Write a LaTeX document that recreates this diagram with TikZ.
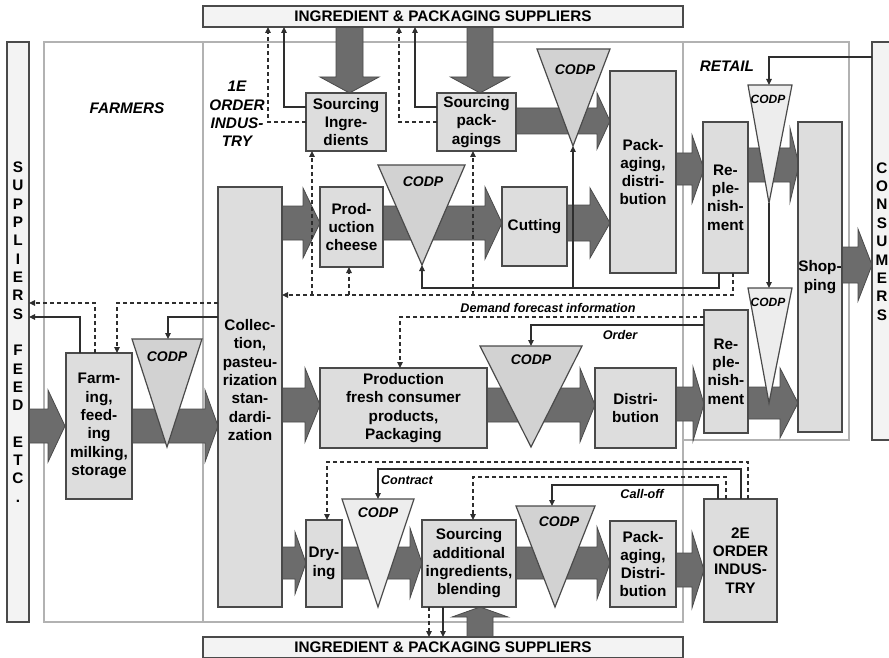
\documentclass[tikz,border=0pt]{standalone}
\usepackage{fontspec}
\setmainfont{Liberation Sans}
\usetikzlibrary{arrows.meta}
\definecolor{boxfill}{HTML}{DDDDDD}
\definecolor{trifill}{HTML}{D2D2D2}
\definecolor{lighttri}{HTML}{EDEDED}
\definecolor{arrowfill}{HTML}{6C6C6C}
\definecolor{linec}{HTML}{2E2E2E}
\definecolor{framec}{HTML}{B2B2B2}
\definecolor{supfill}{HTML}{F3F3F3}
\definecolor{edgec}{HTML}{4A4A4A}
\pgfdeclarelayer{back}\pgfdeclarelayer{mid}\pgfsetlayers{back,mid,main}
\newcommand\blkh[6]{\draw[barrow] (#1,{#4-#5}) -- (#3,{#4-#5}) -- (#3,{#4-#6}) -- (#2,#4) -- (#3,{#4+#6}) -- (#3,{#4+#5}) -- (#1,{#4+#5}) -- cycle;}
\newcommand\blkv[6]{\draw[barrow] ({#1-#5},#2) -- ({#1-#5},#3) -- ({#1-#6},#3) -- (#1,#4) -- ({#1+#6},#3) -- ({#1+#5},#3) -- ({#1+#5},#2) -- cycle;}
\tikzset{
  box/.style={draw=edgec, fill=boxfill, line width=1.3pt, inner xsep=0pt, inner ysep=0pt, outer sep=0pt, align=center, font=\bfseries\fontsize{15.3}{18.3}\selectfont},
  txt/.style={inner sep=0pt, align=center, font=\bfseries\fontsize{15.3}{18.3}\selectfont},
  itl/.style={inner sep=0pt, align=center, font=\bfseries\itshape\fontsize{15.3}{18.3}\selectfont},
  small/.style={inner sep=0pt, font=\bfseries\itshape\fontsize{12.6}{14}\selectfont},
  codp/.style={inner sep=0pt, font=\bfseries\itshape\fontsize{14}{16}\selectfont},
  codps/.style={inner sep=0pt, font=\bfseries\itshape\fontsize{12}{14}\selectfont},
  tri/.style={draw=edgec, fill=trifill, line width=1.2pt, line join=miter},
  ltri/.style={draw=edgec, fill=lighttri, line width=1.2pt, line join=miter},
  barrow/.style={draw=edgec, fill=arrowfill, line width=0.8pt},
  frame/.style={draw=framec, line width=1.6pt},
  sl/.style={draw=linec, line width=1.1pt},
  dl/.style={draw=linec, line width=1.1pt, dash pattern=on 4pt off 3pt},
  arr/.style={-{Triangle[length=6pt,width=5.5pt]}}
}
\begin{document}
\begin{tikzpicture}[x=1pt,y=-1pt]
\useasboundingbox (0,0) rectangle (889,658);
\begin{pgfonlayer}{back}
\fill[white] (0,0) rectangle (889,658);
\draw[frame] (44,42) rectangle (683,622);
\draw[frame] (203,42) -- (203,622);
\draw[frame] (683,42) rectangle (849,440);
\end{pgfonlayer}

% supplier / consumer bars
\node[box, fill=supfill, minimum width=480pt, minimum height=21pt] (suptop) at (443,16.5) {INGREDIENT \& PACKAGING SUPPLIERS};
\node[box, fill=supfill, minimum width=480pt, minimum height=21pt] (supbot) at (443,647.5) {INGREDIENT \& PACKAGING SUPPLIERS};
\node[box, fill=supfill, minimum width=22pt, minimum height=580pt, font=\bfseries\fontsize{15.3}{18.33}\selectfont] (supleft) at (18,332) {S\\U\\P\\P\\L\\I\\E\\R\\S\\~\\F\\E\\E\\D\\~\\E\\T\\C\\.};
\node[box, fill=supfill, minimum width=20pt, minimum height=398pt] (cons) at (882,241) {};
\node[txt, font=\bfseries\fontsize{15.3}{18.4}\selectfont] (consl) at (882,241.5) {C\\O\\N\\S\\U\\M\\E\\R\\S};

% region labels
\node[itl] (farmers) at (127,108) {FARMERS};
\node[itl] (oneE) at (237,114) {1E\\ORDER\\INDUS-\\TRY};
\node[itl] (retail) at (727,66) {RETAIL};

% process boxes
\node[box, minimum width=80pt, minimum height=58pt] (sing) at (346,122) {Sourcing\\Ingre-\\dients};
\node[box, minimum width=79pt, minimum height=58pt] (spack) at (476.5,122) {Sourcing\\pack-\\agings};
\node[box, minimum width=64pt, minimum height=420pt] (coll) at (250,397) {};
\node[txt] (colltxt) at (250,380) {Collec-\\tion,\\pasteu-\\rization\\stan-\\dardi-\\zation};
\node[box, minimum width=66pt, minimum height=146pt] (farm) at (99,426) {Farm-\\ing,\\feed-\\ing\\milking,\\storage};
\node[box, minimum width=63pt, minimum height=80pt] (prodch) at (351.5,227) {Prod-\\uction\\cheese};
\node[box, minimum width=65pt, minimum height=79pt] (cut) at (534.5,226.5) {Cutting};
\node[box, minimum width=66pt, minimum height=202pt] (packd) at (643,172) {Pack-\\aging,\\distri-\\bution};
\node[box, minimum width=45pt, minimum height=151pt] (rep1) at (725.5,197.5) {Re-\\ple-\\nish-\\ment};
\node[box, minimum width=44pt, minimum height=310pt] (shop) at (820,277) {Shop-\\ping};
\node[box, minimum width=167pt, minimum height=80pt] (fresh) at (403.5,408) {Production\\fresh consumer\\products,\\Packaging};
\node[box, minimum width=81pt, minimum height=80pt] (dist) at (635.5,408) {Distri-\\bution};
\node[box, minimum width=44pt, minimum height=123pt] (rep2) at (726,371.5) {Re-\\ple-\\nish-\\ment};
\node[box, minimum width=36pt, minimum height=87pt] (dry) at (324,563.5) {Dry-\\ing};
\node[box, minimum width=94pt, minimum height=87pt] (sadd) at (469,563.5) {Sourcing\\additional\\ingredients,\\blending};
\node[box, minimum width=66pt, minimum height=86pt] (packd2) at (643,564) {Pack-\\aging,\\Distri-\\bution};
\node[box, minimum width=73pt, minimum height=123pt] (ord2) at (740.5,560.5) {2E\\ORDER\\INDUS-\\TRY};

% block arrows (goods flow)
\begin{pgfonlayer}{mid}
\blkh{29}{65}{48}{426}{17}{36}
\blkh{132}{218}{205}{426}{17}{36}
\blkh{282}{320}{303}{223}{17}{35}
\blkh{383}{502}{485}{223}{17}{36}
\blkh{567}{610}{590}{223}{18}{35}
\blkh{516}{610}{597}{121}{13}{28}
\blkh{676}{704}{692}{169}{16}{34}
\blkh{748}{799}{790}{165}{17}{37}
\blkh{842}{872}{858}{265}{18}{36}
\blkh{282}{320}{305}{405}{17}{37}
\blkh{487}{595}{580}{405}{17}{37}
\blkh{676}{704}{693}{404}{17}{37}
\blkh{748}{798}{780}{403}{16}{35}
\blkh{282}{306}{295}{563}{16}{31}
\blkh{342}{422}{410}{563}{16}{35}
\blkh{516}{610}{597}{563}{16}{36}
\blkh{676}{704}{692}{570}{17}{38}
\blkv{349.5}{27}{77}{93}{13.5}{29.5}
\blkv{480}{27}{77}{93}{13}{29.5}
\blkv{480}{637}{617}{607}{13}{28}
\end{pgfonlayer}

% CODP triangles
\draw[tri] (537,49) -- (610,49) -- (573,146) coordinate (t0tip) -- cycle;
\node[codp] (c0) at (575,70) {CODP};
\draw[tri] (378,165) -- (465,165) -- (422,265) coordinate (t1tip) -- cycle;
\node[codp] (c1) at (423,182) {CODP};
\draw[tri] (132,339) -- (202,339) -- (167,447) -- cycle;
\coordinate (t2top) at (168,339);
\node[codp] (c2) at (167,357) {CODP};
\draw[tri] (480,346) -- (582,346) -- (531,447) -- cycle;
\coordinate (t3top) at (531,346);
\node[codp] (c3) at (531,360) {CODP};
\draw[ltri] (342,499) -- (414,499) -- (378,607) -- cycle;
\coordinate (t4top) at (378,499);
\node[codp] (c4) at (378,513) {CODP};
\draw[tri] (516,506) -- (595,506) -- (555,607) -- cycle;
\coordinate (t5top) at (552,506);
\node[codp] (c5) at (559,522) {CODP};
\draw[ltri] (748,85) -- (792,85) -- (769,203) coordinate (t6tip) -- cycle;
\coordinate (t6top) at (769,85);
\node[codps] (c6) at (768,99) {CODP};
\draw[ltri] (748,288) -- (792,288) -- (769,403) -- cycle;
\coordinate (t7top) at (769,288);
\node[codps] (c7) at (768,302) {CODP};

% information flows, top
\draw[sl,arr] (sing.west |- 0,107) -| (suptop.south -| 284,0);
\draw[dl,arr] (sing.west |- 0,122) -| (suptop.south -| 268,0);
\draw[sl,arr] (spack.west |- 0,107) -| (suptop.south -| 415,0);
\draw[dl,arr] (spack.west |- 0,122) -| (suptop.south -| 399,0);

% from replenishment (cheese chain)
\draw[dl,arr] (rep1.south -| 733,0) |- (coll.east |- 0,295);
\draw[dl,arr] (312,295) -- (sing.south -| 312,0);
\draw[dl,arr] (349,295) -- (prodch.south -| 349,0);
\draw[dl,arr] (473,295) -- (spack.south -| 473,0);
\draw[sl,arr] (rep1.south -| 719,0) |- (422,288) -- (t1tip);
\draw[sl,arr] (573,288) -- (t0tip);

% fresh chain
\draw[dl,arr] (rep2.west |- 0,317) -| (fresh.north -| 400,0);
\node[small] (dfi) at (548,308) {Demand forecast information};
\draw[sl,arr] (rep2.west |- 0,325) -| (t3top);
\node[small] (ordl) at (620,335) {Order};

% retail
\draw[sl,arr] (cons.west |- 0,57) -| (t6top);
\draw[sl,arr] (t6tip) -- (t7top);

% farmers
\draw[sl,arr] (farm.north -| 80,0) |- (supleft.east |- 0,317);
\draw[dl,arr] (farm.north -| 95,0) |- (supleft.east |- 0,303);
\draw[dl,arr] (coll.west |- 0,303) -| (farm.north -| 117,0);
\draw[sl,arr] (coll.west |- 0,317) -| (t2top);

% 2E order industry chain
\draw[dl,arr] (ord2.north -| 748,0) -- (748,462) -| (dry.north -| 327,0);
\draw[sl,arr] (ord2.north -| 741,0) -- (741,469) -| (t4top);
\draw[dl,arr] (ord2.north -| 726,0) -- (726,477) -| (sadd.north -| 473,0);
\draw[sl,arr] (ord2.north -| 718,0) -- (718,485) -| (t5top);
\node[small] (contr) at (407,480) {Contract};
\node[small] (calloff) at (642,494) {Call-off};
\draw[dl,arr] (sadd.south -| 429,0) -- (supbot.north -| 429,0);
\draw[sl,arr] (sadd.south -| 443,0) -- (supbot.north -| 443,0);
\end{tikzpicture}
\end{document}
